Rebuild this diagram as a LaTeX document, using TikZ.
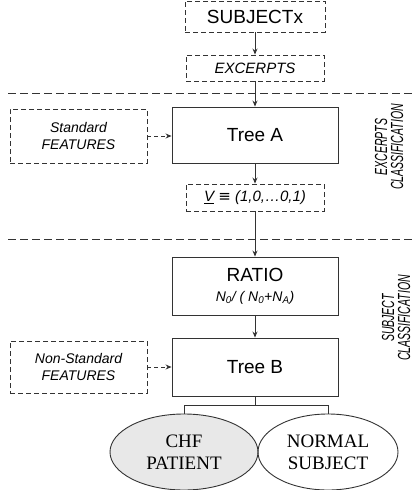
\documentclass[tikz,border=0pt]{standalone}
\usepackage{fontspec}
\setmainfont{Liberation Sans}
\newfontfamily\serifface{Liberation Serif}
\newfontfamily\symface{DejaVu Sans}
\usetikzlibrary{arrows.meta,calc,shapes.geometric}
\definecolor{ink}{HTML}{333333}
\definecolor{chffill}{HTML}{E8E8E8}
\tikzset{
  x=1pt, y=-1pt,
  box/.style={draw=ink, line width=0.9pt, inner sep=0pt, align=center},
  dbox/.style={box, dash pattern=on 5pt off 3pt},
  outcome/.style={ellipse, draw=ink, line width=0.9pt, inner sep=0pt, align=center,
    font=\serifface\fontsize{19}{22}\selectfont},
  flow/.style={draw=ink, line width=0.9pt, -{Stealth[length=6pt,width=5pt]}},
  dflow/.style={flow, dash pattern=on 4pt off 3pt},
  link/.style={draw=ink, line width=0.9pt},
  divider/.style={draw=ink, line width=0.9pt, dash pattern=on 8pt off 4pt},
  side/.style={rotate=90, align=center, font=\itshape\fontsize{17.5}{16}\selectfont, inner sep=0pt},
}
\begin{document}
\begin{tikzpicture}
\useasboundingbox (0,0) rectangle (413,490);

% classification stages
\draw[divider] (8,93) -- (413,93);
\draw[divider] (8,239) -- (413,239);

% excerpt stage
\node[dbox, minimum width=140pt, minimum height=31pt, font=\fontsize{19}{22}\selectfont]
  (subj) at (255,16.5) {SUBJECTx};
\node[dbox, minimum width=138pt, minimum height=26pt, font=\itshape\fontsize{15}{18}\selectfont]
  (exc) at (255,68) {EXCERPTS};
\node[box, minimum width=166pt, minimum height=56pt, font=\fontsize{19}{22}\selectfont]
  (treeA) at (255,135) {Tree A};
\node[dbox, minimum width=137pt, minimum height=54pt, font=\itshape\fontsize{14}{17}\selectfont]
  (stdf) at (78.5,136) {Standard\\FEATURES};
\node[dbox, minimum width=138pt, minimum height=27pt, font=\itshape\fontsize{15}{18}\selectfont]
  (vec) at (255,197.5) {\underline{V} {\upshape\symface ≡} (1,0,\ldots0,1)};

% subject stage
\node[box, minimum width=166pt, minimum height=58pt, font=\fontsize{19}{22}\selectfont]
  (ratio) at (255,286) {RATIO\\[-2pt]{\itshape\fontsize{14}{16}\selectfont N\textsubscript{0}/ ( N\textsubscript{0}+N\textsubscript{A})}};
\node[box, minimum width=166pt, minimum height=58pt, font=\fontsize{19}{22}\selectfont]
  (treeB) at (255,367) {Tree B};
\node[dbox, minimum width=137pt, minimum height=52pt, font=\itshape\fontsize{14}{17}\selectfont]
  (nstdf) at (78.5,367) {Non-Standard\\FEATURES};

\node[outcome, fill=chffill, minimum width=148pt, minimum height=76pt]
  (chf) at (184,452) {CHF\\PATIENT};
\node[outcome, minimum width=140pt, minimum height=76pt]
  (norm) at (328,452) {NORMAL\\SUBJECT};

% stage labels
\node[side] (lblA) at (389,147) {\scalebox{0.6}[1]{EXCERPTS}\\\scalebox{0.6}[1]{CLASSIFICATION}};
\node[side] (lblB) at (396,318) {\scalebox{0.6}[1]{SUBJECT}\\\scalebox{0.6}[1]{CLASSIFICATION}};

% connectors
\draw[flow] (subj) -- (exc);
\draw[flow] (exc) -- (treeA);
\draw[flow] (treeA) -- (vec);
\draw[flow] (vec) -- (ratio);
\draw[flow] (ratio) -- (treeB);
\draw[dflow] (stdf.east) -- (treeA.west |- stdf.east);
\draw[dflow] (nstdf.east) -- (treeB.west |- nstdf.east);
\coordinate (split) at ($(treeB.south)+(0,9)$);
\draw[link] (treeB.south) -- (split);
\draw[link] (split) -| (chf.north);
\draw[link] (split) -| (norm.north);
\end{tikzpicture}
\end{document}
